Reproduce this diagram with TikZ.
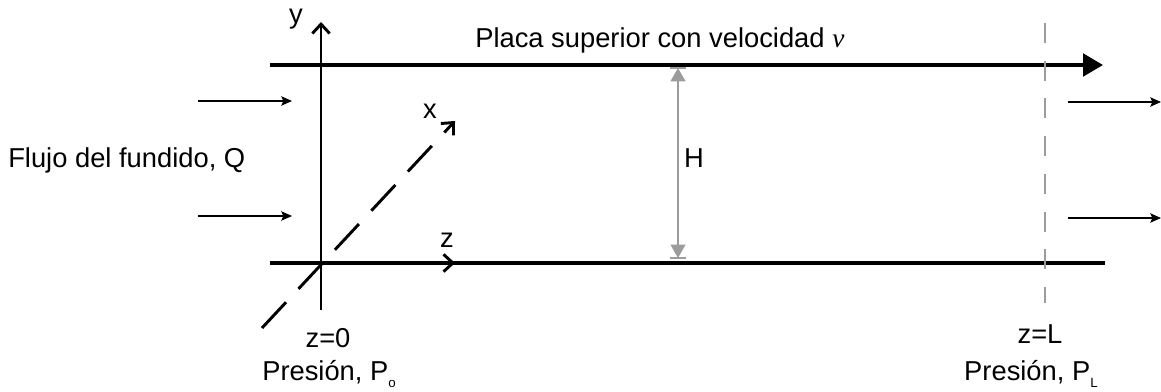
\documentclass[tikz,border=0pt]{standalone}
\usepackage{fontspec}
\setmainfont{Liberation Sans}
\newfontfamily\vfont{Liberation Serif}
\usetikzlibrary{arrows.meta}
\definecolor{dimgray}{HTML}{9C9C9C}
\newcommand{\tinysub}[1]{\raisebox{-0.5ex}{\fontsize{10}{10}\selectfont #1}}
\begin{document}
\begin{tikzpicture}[x=0.75pt,y=-0.75pt,
  plate/.style={line width=2.5pt},
  platearrow/.style={plate,-{Triangle[length=15pt,width=17pt]}},
  axis/.style={line width=2.2pt,-{Straight Barb[length=7pt,width=13pt]}},
  flow/.style={line width=1.1pt,-{Stealth[length=8pt,width=7pt,inset=1.5pt]}},
  lbl/.style={font=\fontsize{20.5}{24}\selectfont, inner sep=0pt},
  graydash/.style={draw=dimgray, line width=2pt, dash pattern=on 15pt off 13.3pt},
  harrow/.style={draw=dimgray, line width=1.6pt, {Triangle[length=10pt,width=11pt]}-{Triangle[length=10pt,width=11pt]}},
  hbar/.style={draw=dimgray, line width=1.6pt}
]
\useasboundingbox (0,0) rectangle (1161,392);
% coordinates
\coordinate (TL) at (270,65);
\coordinate (TR) at (1103,65);
\coordinate (BL) at (270,263);
\coordinate (BR) at (1105,263);
\coordinate (O) at (321,263);
\coordinate (Ytop) at (321,22);
\coordinate (Ybot) at (321,310);
\coordinate (Zend) at (455,263);
\coordinate (Xs) at (262,328);
\coordinate (Xe) at (455,121);
\coordinate (Ht) at (678,68);
\coordinate (Hb) at (678,258);
\coordinate (Htl) at (670,68);
\coordinate (Htr) at (686,68);
\coordinate (Hbl) at (670,258);
\coordinate (Hbr) at (686,258);
\coordinate (Dt) at (1045,23);
\coordinate (Db) at (1045,303);
\coordinate (I1s) at (198,101);
\coordinate (I1e) at (292,101);
\coordinate (I2s) at (198,216);
\coordinate (I2e) at (292,216);
\coordinate (O1s) at (1068,102);
\coordinate (O1e) at (1161,102);
\coordinate (O2s) at (1068,218);
\coordinate (O2e) at (1161,218);

% plates
\draw[platearrow] (TL) -- (TR);
\draw[plate] (BL) -- (BR);
% axes
\draw[axis] (Ybot) -- (Ytop);
\draw[axis] (O) -- (Zend);
\draw[axis, dash pattern=on 26.4pt off 13.7pt] (Xs) -- (Xe);
% H dimension
\draw[harrow] (Ht) -- (Hb);
\draw[hbar] (Htl) -- (Htr);
\draw[hbar] (Hbl) -- (Hbr);
% exit plane
\draw[graydash] (Dt) -- (Db);
% flow arrows
\draw[flow] (I1s) -- (I1e);
\draw[flow] (I2s) -- (I2e);
\draw[flow] (O1s) -- (O1e);
\draw[flow] (O2s) -- (O2e);

% labels
\node[lbl] (ylab) at (296,19) {y};
\node[lbl] (xlab) at (430,111) {x};
\node[lbl] (zlab) at (447,240) {z};
\node[lbl] (hlab) at (694,158) {H};
\node[lbl, anchor=base west] (flujo) at (8,168) {Flujo del fundido, Q};
\node[lbl, anchor=base west] (placa) at (475,48) {Placa superior con velocidad {\vfont\itshape v}};
\node[lbl, anchor=base] (z0) at (328,347) {z=0};
\node[lbl, anchor=base west] (p0) at (262,380) {Presión, P\tinysub{o}};
\node[lbl, anchor=base] (zL) at (1040,344) {z=L};
\node[lbl, anchor=base east] (pL) at (1098,380) {Presión, P\tinysub{L}};
\end{tikzpicture}
\end{document}
